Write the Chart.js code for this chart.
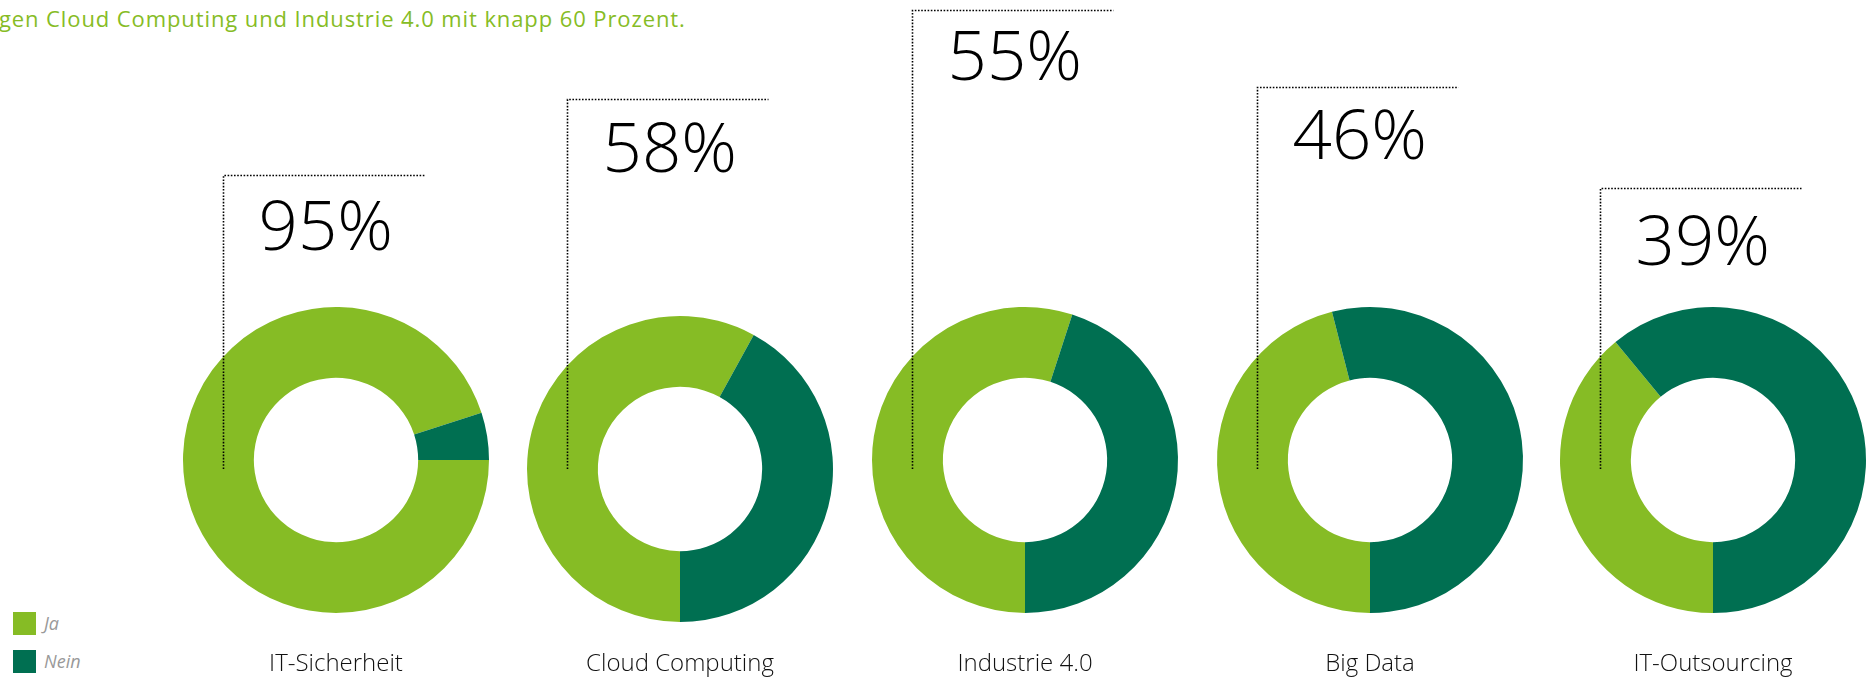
<!DOCTYPE html>
<html lang="de">
<head>
<meta charset="utf-8">
<title>Digitalisierungsthemen</title>
<script src="https://cdn.jsdelivr.net/npm/chart.js@4.4.1/dist/chart.umd.min.js"></script>
<style>
  html, body { margin: 0; padding: 0; }
  body {
    width: 1874px; height: 678px; position: relative; overflow: hidden;
    background: #fff; font-family: "Open Sans", sans-serif;
  }
  .intro {
    position: absolute; left: -1px; top: 0; margin: 0; line-height: 36px;
    color: #86bc25; font-size: 22px; font-weight: 400; letter-spacing: 0.9px; white-space: nowrap;
  }
  .legend { position: absolute; left: 13px; top: 612px; }
  .legend div { position: relative; height: 38px; }
  .legend span.box { position: absolute; left: 0; top: 0; width: 23px; height: 23px; }
  .legend span.txt {
    position: absolute; left: 31px; top: -1px; font-size: 18px; font-style: italic;
    font-weight: 400; color: #999; line-height: 24px;
  }
  canvas { position: absolute; top: 0; }
</style>
</head>
<body>
<p class="intro">gen Cloud Computing und Industrie 4.0 mit knapp 60 Prozent.</p>
<div class="legend" id="legend"></div>

<script>
const categories = ['IT-Sicherheit', 'Cloud Computing', 'Industrie 4.0', 'Big Data', 'IT-Outsourcing'];
const ja = [95, 58, 55, 46, 39];
const nein = [5, 42, 45, 54, 61];
const seriesNames = ['Ja', 'Nein'];

const colors = ['#86bc25', '#006f51'];

// placement of each ring and its callout
const centerX = [336, 680, 1025, 1370, 1713];
const centerY = [460, 469, 460, 460, 460];
const startAngle = [90, 180, 180, 180, 180];
const leaderTop = [175, 99, 10, 87, 188];
const valueBaseline = [250, 172, 80, 159, 265];

const RADIUS = 153;
const COL_W = 344;
const PAGE_H = 678;

// legend
const legend = document.getElementById('legend');
seriesNames.forEach((name, k) => {
  const row = document.createElement('div');
  row.innerHTML = '<span class="box" style="background:' + colors[k] + '"></span><span class="txt">' + name + '</span>';
  legend.appendChild(row);
});

// dotted leader, big percentage and category name for one ring
const calloutPlugin = {
  id: 'callout',
  afterDraw(chart, args, opts) {
    const ctx = chart.ctx;
    const meta = chart.getDatasetMeta(0);
    const arc = meta.data[0];
    const cx = arc.x, cy = arc.y;
    const lx = Math.round(cx - 113) + 0.5;
    const ty = Math.round(opts.top) + 0.5;

    ctx.save();
    ctx.strokeStyle = '#000';
    ctx.lineWidth = 1.6;
    ctx.setLineDash([1.6, 1.6]);
    ctx.beginPath();
    ctx.moveTo(lx, 469);
    ctx.lineTo(lx, ty);
    ctx.lineTo(lx + 201, ty);
    ctx.stroke();
    ctx.setLineDash([]);

    ctx.fillStyle = '#000';
    ctx.font = '300 69px "Open Sans"';
    ctx.textAlign = 'left';
    ctx.textBaseline = 'alphabetic';
    ctx.fillText(chart.data.datasets[0].data[0] + '%', lx + 35, opts.baseline);

    ctx.fillStyle = '#111';
    ctx.font = '300 24px "Open Sans"';
    ctx.textAlign = 'center';
    ctx.fillText(opts.label, cx, 671);
    ctx.restore();
  }
};

categories.forEach((cat, i) => {
  const canvas = document.createElement('canvas');
  canvas.width = COL_W;
  canvas.height = PAGE_H;
  canvas.style.left = (centerX[i] - COL_W / 2) + 'px';
  document.body.appendChild(canvas);

  const side = COL_W / 2 - RADIUS;
  new Chart(canvas.getContext('2d'), {
    type: 'doughnut',
    data: {
      labels: seriesNames,
      datasets: [{
        data: [ja[i], nein[i]],
        backgroundColor: colors,
        borderWidth: 0,
        hoverOffset: 0
      }]
    },
    options: {
      responsive: false,
      animation: false,
      rotation: startAngle[i],
      cutout: '53.7%',
      layout: {
        padding: {
          left: side,
          right: side,
          top: centerY[i] - RADIUS,
          bottom: PAGE_H - centerY[i] - RADIUS
        }
      },
      plugins: {
        legend: { display: false },
        tooltip: { enabled: false },
        callout: { top: leaderTop[i], baseline: valueBaseline[i], label: cat }
      }
    },
    plugins: [calloutPlugin]
  });
});
</script>
</body>
</html>
